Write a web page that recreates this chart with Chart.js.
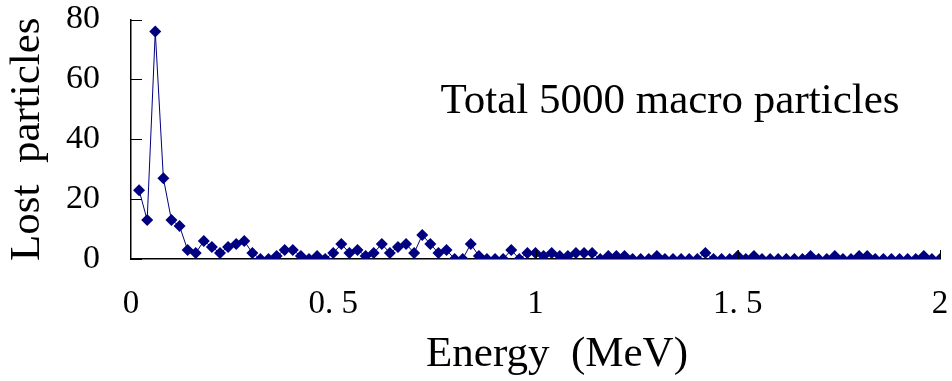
<!DOCTYPE html>
<html>
<head>
<meta charset="utf-8">
<script src="https://cdn.jsdelivr.net/npm/chart.js@4"></script>
<style>
  html, body { margin: 0; padding: 0; background: #fff; }
  #wrap { width: 952px; height: 381px; }
</style>
</head>
<body>
<div id="wrap"><canvas id="grafico"></canvas></div>
<script>
// energy bins (MeV)
const energia = [
  0.02, 0.04, 0.06, 0.08, 0.10, 0.12, 0.14, 0.16, 0.18, 0.20,
  0.22, 0.24, 0.26, 0.28, 0.30, 0.32, 0.34, 0.36, 0.38, 0.40,
  0.42, 0.44, 0.46, 0.48, 0.50, 0.52, 0.54, 0.56, 0.58, 0.60,
  0.62, 0.64, 0.66, 0.68, 0.70, 0.72, 0.74, 0.76, 0.78, 0.80,
  0.82, 0.84, 0.86, 0.88, 0.90, 0.92, 0.94, 0.96, 0.98, 1.00,
  1.02, 1.04, 1.06, 1.08, 1.10, 1.12, 1.14, 1.16, 1.18, 1.20,
  1.22, 1.24, 1.26, 1.28, 1.30, 1.32, 1.34, 1.36, 1.38, 1.40,
  1.42, 1.44, 1.46, 1.48, 1.50, 1.52, 1.54, 1.56, 1.58, 1.60,
  1.62, 1.64, 1.66, 1.68, 1.70, 1.72, 1.74, 1.76, 1.78, 1.80,
  1.82, 1.84, 1.86, 1.88, 1.90, 1.92, 1.94, 1.96, 1.98, 2.00
];

// lost particles per bin
const perdidas = [
  23, 13, 76, 27, 13, 11, 3, 2, 6, 4,
  2, 4, 5, 6, 2, 0, 0, 1, 3, 3,
  1, 0, 1, 0, 2, 5, 2, 3, 1, 2,
  5, 2, 4, 5, 2, 8, 5, 2, 3, 0,
  0, 5, 1, 0, 0, 0, 3, 0, 2, 2,
  1, 2, 1, 1, 2, 2, 2, 0, 1, 1,
  1, 0, 0, 0, 1, 0, 0, 0, 0, 0,
  2, 0, 0, 0, 1, 0, 1, 0, 0, 0,
  0, 0, 0, 1, 0, 0, 1, 0, 0, 1,
  1, 0, 0, 0, 0, 0, 0, 1, 0, 0
];

const xTicks = [0, 0.5, 1, 1.5, 2];
const xTickLabels = ['0', '0. 5', '1', '1. 5', '2'];
const yTicks = [0, 20, 40, 60, 80];

const serif = "'Liberation Serif', 'Times New Roman', serif";

// ticks drawn inside the plot + the text note
const extras = {
  id: 'extras',
  afterDraw(chart) {
    const c = chart.ctx;
    const x = chart.scales.x;
    const y = chart.scales.y;
    const area = chart.chartArea;
    c.save();
    c.strokeStyle = '#000';
    c.lineWidth = 1;
    c.beginPath();
    yTicks.forEach(v => {
      const py = Math.round(y.getPixelForValue(v)) + 0.5;
      c.moveTo(area.left, py);
      c.lineTo(area.left + 11, py);
    });
    xTicks.slice(1).forEach(v => {
      const px = Math.round(x.getPixelForValue(v)) + 0.5;
      c.moveTo(px, area.bottom);
      c.lineTo(px, area.bottom - 9);
    });
    c.stroke();

    c.fillStyle = '#000';
    c.font = '43px ' + serif;
    c.textBaseline = 'alphabetic';
    c.fillText('Total 5000 macro particles', x.getPixelForValue(0.765), y.getPixelForValue(48.8));
    c.restore();
  }
};

const ctx = document.getElementById('grafico');

new Chart(ctx, {
  type: 'line',
  data: {
    labels: energia,
    datasets: [{
      data: energia.map((e, i) => ({ x: e, y: perdidas[i] })),
      borderColor: '#000080',
      backgroundColor: '#000080',
      borderWidth: 1,
      pointStyle: 'rectRot',
      pointRadius: 6,
      pointBorderWidth: 0,
      pointBackgroundColor: '#000080',
      tension: 0
    }]
  },
  options: {
    responsive: true,
    maintainAspectRatio: false,
    animation: false,
    layout: { padding: { top: 19.5, right: 12, left: 0, bottom: 0 } },
    plugins: {
      legend: { display: false },
      tooltip: { enabled: false }
    },
    scales: {
      x: {
        type: 'linear',
        min: 0,
        max: 2,
        afterBuildTicks: s => { s.ticks = xTicks.map(v => ({ value: v })); },
        afterFit: s => {
          s.height = 122;
          s.paddingLeft = 0;
          s.paddingRight = 0;
        },
        grid: { drawOnChartArea: false, drawTicks: false },
        border: { color: '#000', width: 1.5 },
        ticks: {
          padding: 26,
          color: '#000',
          font: { family: serif, size: 33 },
          maxRotation: 0,
          callback: v => xTickLabels[xTicks.indexOf(v)]
        },
        title: {
          display: true,
          text: '    Energy  (MeV)',
          color: '#000',
          font: { family: serif, size: 43 },
          padding: { top: 0, bottom: 0 }
        }
      },
      y: {
        min: 0,
        max: 80,
        afterBuildTicks: s => { s.ticks = yTicks.map(v => ({ value: v })); },
        afterFit: s => {
          s.width = 131;
          s.paddingTop = 0;
          s.paddingBottom = 0;
        },
        grid: { drawOnChartArea: false, drawTicks: false },
        border: { color: '#000', width: 1.5 },
        ticks: {
          padding: 31,
          color: '#000',
          font: { family: serif, size: 34 }
        },
        title: {
          display: true,
          text: 'Lost  particles',
          color: '#000',
          font: { family: serif, size: 43 },
          padding: { top: 2, bottom: 0 }
        }
      }
    }
  },
  plugins: [extras]
});
</script>
</body>
</html>
